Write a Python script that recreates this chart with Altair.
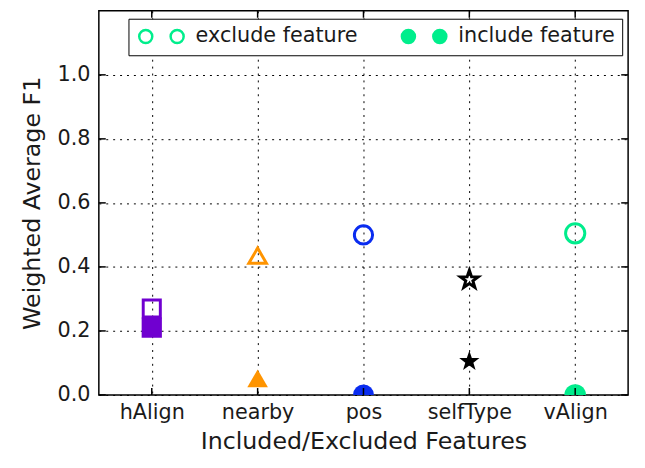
import altair as alt
import pandas as pd

# ---- data ----
features = ["hAlign", "nearby", "pos", "selfType", "vAlign"]
exclude_f1 = [0.27, 0.435, 0.50, 0.36, 0.505]
include_f1 = [0.21, 0.052, 0.0, 0.105, 0.0]
legend_labels = ["exclude feature", "include feature"]
y_tick_values = [0.0, 0.2, 0.4, 0.6, 0.8, 1.0]

# ---- styles ----
star_path = ("M0,-1 L0.235,-0.324 L0.951,-0.309 L0.380,0.124 L0.588,0.809 L0,0.4 "
             "L-0.588,0.809 L-0.380,0.124 L-0.951,-0.309 L-0.235,-0.324 Z")
marker_shapes = ["square", "triangle-up", "circle", star_path, "circle"]
marker_colors = ["#7000d0", "#ff9400", "#0a2cf0", "#000000", "#00ec8c"]
open_sizes = [300, 380, 195, 130, 195]
filled_sizes = [420, 480, 300, 240, 300]
legend_green = "#00ee8c"
font = "DejaVu Sans"
text_color = "#1a1a1a"

W, H = 536, 389
TICK = 7

df = pd.DataFrame({"feature": features, "exclude": exclude_f1, "include": include_f1})
ytick_df = pd.DataFrame({"tick": y_tick_values})
legend_df = pd.DataFrame({"kind": legend_labels})

xscale = alt.Scale(type="point", domain=features, padding=0.5)
yscale = alt.Scale(domain=[0, 1.2], nice=False, zero=False)
color = alt.Color("feature:N", scale=alt.Scale(domain=features, range=marker_colors), legend=None)
shape = alt.Shape("feature:N", scale=alt.Scale(domain=features, range=marker_shapes), legend=None)

grid_kw = dict(grid=True, gridColor="black", gridDash=[2, 5], gridWidth=1, gridOpacity=1)

open_layer = alt.Chart(df).mark_point(filled=False, strokeWidth=3, clip=True, opacity=1).encode(
    x=alt.X("feature:N", scale=xscale, axis=alt.Axis(
        title="Included/Excluded Features", orient="bottom", labelAngle=0, ticks=False,
        domain=False, labelFontSize=21, titleFontSize=24, labelFont=font, titleFont=font,
        labelColor=text_color, titleColor=text_color, titleFontWeight="normal",
        labelPadding=7, titlePadding=7, **grid_kw)),
    y=alt.Y("exclude:Q", scale=yscale, axis=alt.Axis(
        title="Weighted Average F1", orient="left", values=y_tick_values, format=".1f",
        ticks=False, domain=False, labelFontSize=21, titleFontSize=24, labelFont=font,
        titleFont=font, labelColor=text_color, titleColor=text_color,
        titleFontWeight="normal", labelPadding=9, titlePadding=13, **grid_kw)),
    color=color,
    shape=shape,
    size=alt.Size("feature:N", scale=alt.Scale(domain=features, range=open_sizes), legend=None),
)

filled_layer = alt.Chart(df).mark_point(filled=True, clip=True, opacity=1).encode(
    x=alt.X("feature:N", scale=xscale),
    y=alt.Y("include:Q", scale=yscale),
    color=color,
    shape=shape,
    size=alt.Size("feature:N", scale=alt.Scale(domain=features, range=filled_sizes), legend=None),
)

# inward-pointing ticks on all four sides (matplotlib classic style)
rule_style = dict(color="black", strokeWidth=1.5)
xt_top = alt.Chart(df).mark_rule(**rule_style).encode(
    x=alt.X("feature:N", scale=xscale), y=alt.value(0), y2=alt.value(TICK))
xt_bot = alt.Chart(df).mark_rule(**rule_style).encode(
    x=alt.X("feature:N", scale=xscale), y=alt.value(H - TICK), y2=alt.value(H))
yt_left = alt.Chart(ytick_df).mark_rule(**rule_style).encode(
    y=alt.Y("tick:Q", scale=yscale), x=alt.value(0), x2=alt.value(TICK))
yt_right = alt.Chart(ytick_df).mark_rule(**rule_style).encode(
    y=alt.Y("tick:Q", scale=yscale), x=alt.value(W - TICK), x2=alt.value(W))

two_circles = ("M -1.1,0 A 1.1,1.1 0 1,0 1.1,0 A 1.1,1.1 0 1,0 -1.1,0 Z "
               "M 4.2,0 A 1.1,1.1 0 1,0 6.4,0 A 1.1,1.1 0 1,0 4.2,0 Z")

legend_layer = alt.Chart(legend_df).mark_point(
    filled=True, size=0, opacity=1, stroke=legend_green, strokeWidth=2.5
).encode(
    fill=alt.Fill("kind:N", scale=alt.Scale(domain=legend_labels, range=["white", legend_green]),
                  legend=alt.Legend(
                      title=None, orient="none", legendX=30, legendY=8, direction="horizontal",
                      fillColor="white", strokeColor="black", padding=7,
                      labelFontSize=21, labelFont=font, labelColor=text_color,
                      symbolType=two_circles, symbolSize=144, symbolStrokeWidth=2.5,
                      symbolOpacity=1, symbolStrokeColor=legend_green, labelOffset=40,
                      columnPadding=38, labelLimit=400)),
)

chart = alt.layer(
    open_layer, filled_layer, xt_top, xt_bot, yt_left, yt_right, legend_layer
).resolve_scale(size="independent").properties(
    width=W, height=H,
    autosize=alt.AutoSizeParams(type="none"),
    padding={"left": 92, "top": 0, "right": 9, "bottom": 62},
).configure_view(stroke="black", strokeWidth=1.5)

chart.save("out.html", embed_options={"renderer": "svg", "actions": False})
